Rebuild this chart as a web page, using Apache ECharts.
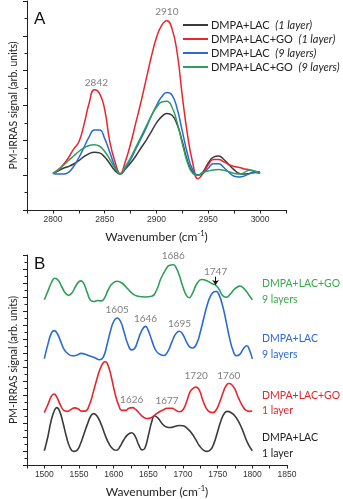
<!DOCTYPE html>
<html>
<head>
<meta charset="utf-8">
<script src="https://cdn.jsdelivr.net/npm/echarts@6/dist/echarts.min.js"></script>
<style>
  html, body { margin: 0; padding: 0; background: #fff; }
  #chart { width: 343px; height: 499px; }
</style>
</head>
<body>
<div id="chart"></div>
<script>
// Panel A: CH stretching region, sampled every 5 cm-1 from 2800 to 3000
const wnA = [];
for (let w = 2800; w <= 3000; w += 5) wnA.push(w);

const aBlack = [0.05,0.12,0.2,0.25,0.32,0.42,0.53,0.62,0.66,0.64,0.52,0.33,0.13,0.03,0.18,0.35,0.55,0.78,1.0,1.25,1.5,1.68,1.77,1.72,1.45,0.95,0.4,0.08,0.0,0.1,0.35,0.52,0.55,0.45,0.3,0.15,0.05,0.03,0.05,0.08,0.07];
const aRed   = [0.05,0.15,0.3,0.5,0.75,0.95,1.45,2.07,2.45,2.35,1.88,0.95,0.38,0.05,0.4,0.9,1.5,2.1,2.75,3.4,3.95,4.3,4.43,4.2,3.5,2.25,1.15,0.35,-0.1,0.05,0.3,0.45,0.45,0.38,0.3,0.25,0.22,0.18,0.15,0.1,0.05];
const aBlue  = [0.05,0.03,0.03,0.08,0.25,0.5,0.8,1.1,1.3,1.3,1.05,0.65,0.25,0.03,0.2,0.45,0.75,1.05,1.35,1.7,2.0,2.25,2.37,2.3,1.9,1.25,0.6,0.15,0.0,0.05,0.2,0.33,0.33,0.22,0.08,-0.03,-0.05,-0.02,0.05,0.08,0.1];
const aGreen = [0.05,0.15,0.28,0.42,0.55,0.68,0.78,0.85,0.87,0.83,0.68,0.45,0.2,0.03,0.25,0.5,0.8,1.1,1.4,1.7,1.95,2.1,2.12,1.95,1.5,0.9,0.35,0.05,0.0,0.08,0.12,0.15,0.16,0.14,0.1,0.05,0.03,0.08,0.15,0.12,0.05];

const namesA = ['DMPA+LAC (1 layer)', 'DMPA+LAC+GO (1 layer)', 'DMPA+LAC (9 layers)', 'DMPA+LAC+GO (9 layers)'];
const peaksA = [2842, 2910];

// Panel B: amide / carbonyl region, offset traces [wavenumber, signal]
const bBlack = [[1500,1.02],[1505,2.0],[1510,3.2],[1515,3.95],[1518,4.1],[1522,3.85],[1527,3.0],[1532,2.0],[1537,1.25],[1542,0.97],[1547,1.05],[1552,1.5],[1557,2.2],[1562,2.9],[1567,3.5],[1571,3.67],[1576,3.5],[1582,2.9],[1588,2.1],[1594,1.45],[1600,1.1],[1604,1.05],[1609,1.3],[1614,1.75],[1620,2.15],[1626,2.3],[1631,2.05],[1636,1.45],[1641,1.08],[1645,1.2],[1650,2.1],[1655,3.1],[1659,3.52],[1664,3.35],[1670,2.95],[1676,2.72],[1682,2.68],[1688,2.75],[1694,2.82],[1700,2.8],[1706,2.62],[1712,2.3],[1718,1.85],[1724,1.35],[1730,1.05],[1735,0.97],[1740,1.1],[1745,1.6],[1750,2.4],[1755,3.2],[1760,3.72],[1764,3.83],[1769,3.75],[1774,3.55],[1779,3.2],[1785,2.6],[1790,1.95],[1795,1.4],[1800,1.02]];
const bRed = [[1500,3.74],[1505,4.3],[1510,4.9],[1514,5.07],[1518,4.85],[1523,4.3],[1528,3.9],[1533,3.83],[1538,3.95],[1544,4.08],[1549,4.0],[1554,3.85],[1559,3.85],[1565,4.3],[1570,5.1],[1575,6.0],[1580,6.8],[1585,7.3],[1588,7.37],[1592,7.1],[1597,6.2],[1602,5.1],[1607,4.3],[1612,3.9],[1617,3.9],[1622,4.05],[1627,4.1],[1632,3.95],[1637,3.7],[1642,3.45],[1648,3.32],[1654,3.38],[1660,3.6],[1666,3.8],[1672,3.95],[1677,4.05],[1684,4.05],[1690,3.9],[1695,3.8],[1700,3.95],[1705,4.5],[1710,5.2],[1714,5.45],[1719,5.56],[1724,5.3],[1728,4.7],[1733,4.1],[1738,3.8],[1743,3.74],[1748,3.95],[1753,4.5],[1758,5.2],[1762,5.65],[1766,5.82],[1770,5.75],[1775,5.4],[1780,4.8],[1786,4.2],[1791,3.9],[1796,3.83],[1800,3.86]];
const bBlue = [[1500,7.6],[1505,8.6],[1510,9.4],[1514,9.6],[1518,9.45],[1523,8.9],[1528,8.3],[1533,8.0],[1540,7.8],[1547,7.85],[1553,7.97],[1558,7.93],[1565,7.8],[1572,7.68],[1580,7.52],[1585,7.7],[1590,8.5],[1595,9.5],[1600,10.25],[1605,10.5],[1610,10.25],[1615,9.5],[1620,8.7],[1626,8.22],[1630,8.3],[1635,8.9],[1640,9.55],[1646,9.9],[1650,9.6],[1655,8.9],[1660,8.25],[1665,7.95],[1672,7.82],[1678,8.1],[1684,8.8],[1690,9.4],[1695,9.55],[1700,9.3],[1705,8.8],[1710,8.42],[1714,8.36],[1720,8.7],[1725,9.5],[1730,10.5],[1735,11.45],[1740,12.1],[1745,12.38],[1748,12.4],[1752,12.15],[1757,11.4],[1762,10.3],[1767,9.1],[1772,8.2],[1777,7.8],[1782,7.9],[1787,8.3],[1792,8.52],[1796,8.2],[1800,7.58]];
const bGreen = [[1500,11.8],[1505,12.4],[1510,13.0],[1515,13.34],[1520,13.2],[1525,12.75],[1530,12.3],[1535,12.12],[1540,12.3],[1545,12.75],[1550,13.1],[1553,13.15],[1557,12.95],[1562,12.3],[1567,11.75],[1572,11.68],[1577,11.75],[1582,11.72],[1587,11.95],[1592,12.5],[1598,12.95],[1605,13.12],[1612,13.0],[1620,12.6],[1628,12.2],[1635,12.05],[1645,12.0],[1655,12.05],[1662,12.5],[1668,13.3],[1675,13.95],[1680,14.25],[1686,14.3],[1690,14.1],[1695,13.5],[1700,12.7],[1705,12.1],[1709,11.95],[1714,12.3],[1720,12.95],[1727,13.25],[1735,13.15],[1742,12.95],[1747,12.85],[1752,12.55],[1757,12.1],[1762,11.98],[1768,12.2],[1775,12.6],[1782,12.78],[1788,12.6],[1795,12.15],[1800,11.8]];

const peaksBGreen = [1686];
const peaksBBlue = [1605, 1646, 1695];
const peaksBRed = [[1626, 1626], [1677, 1677], [1719, 1720], [1766, 1760]];
const arrowB = 1747;

const COLORS = { black: '#3a3a3a', red: '#e8252d', blue: '#2a6ad6', green: '#2f9e5a' };
const LABEL_GREY = '#808080';
const FONT = 'Lato, "Open Sans", sans-serif';

function valueAt(pairs, x) {
  for (let i = 1; i < pairs.length; i++) {
    if (pairs[i][0] >= x) {
      const [x0, y0] = pairs[i - 1], [x1, y1] = pairs[i];
      return y0 + (y1 - y0) * (x - x0) / (x1 - x0);
    }
  }
  return pairs[pairs.length - 1][1];
}

function peakMark(pairs, wn, text, dist) {
  return {
    coord: [wn, valueAt(pairs, wn)],
    symbol: 'circle', symbolSize: 0,
    label: { show: true, position: 'top', distance: dist, formatter: String(text),
             color: LABEL_GREY, fontSize: 10, fontFamily: FONT }
  };
}

const pairsA = arr => wnA.map((w, i) => [w, arr[i]]);
const redA = pairsA(aRed);

function lineSeries(name, data, color, grid, extra) {
  return Object.assign({
    name, type: 'line', data, xAxisIndex: grid, yAxisIndex: grid,
    smooth: 0.5, showSymbol: false, symbol: 'none',
    lineStyle: { color, width: 1.5 }, itemStyle: { color },
    emphasis: { disabled: true }, animation: false, z: 3
  }, extra || {});
}

const chart = echarts.init(document.getElementById('chart'));

const axisLineStyle = { show: true, onZero: false, lineStyle: { color: '#222', width: 1 } };
const axisLabelStyle = { color: '#333', fontSize: 8.5, fontFamily: '"Liberation Sans", Arial, sans-serif', margin: 5 };
const nameRich = {
  fontSize: 12, fontFamily: FONT, color: '#222',
  rich: { s: { fontSize: 7.5, fontFamily: FONT, color: '#222', verticalAlign: 'top', lineHeight: 14 } }
};

function xAxisOf(grid, min, max, lo, hi) {
  return {
    gridIndex: grid, type: 'value', min, max, interval: 25,
    name: 'Wavenumber (cm{s|-1})', nameLocation: 'middle', nameGap: 20,
    nameTextStyle: nameRich,
    axisLine: axisLineStyle,
    axisTick: { show: true, length: 3.5, lineStyle: { color: '#222' } },
    axisLabel: Object.assign({}, axisLabelStyle, {
      formatter: v => (v % 50 === 0 && v >= lo && v <= hi) ? String(v) : ''
    }),
    splitLine: { show: false }
  };
}

function yAxisOf(grid, min, max) {
  return {
    gridIndex: grid, type: 'value', min, max, interval: 1,
    name: 'PM-IRRAS signal (arb. units)', nameLocation: 'middle', nameGap: 8,
    nameTextStyle: { fontSize: 10.5, fontFamily: FONT, color: '#222' },
    axisLine: axisLineStyle,
    axisTick: { show: true, length: 4, lineStyle: { color: '#222' } },
    minorTick: { show: true, splitNumber: 2, length: 2.5, lineStyle: { color: '#222' } },
    axisLabel: { show: false },
    splitLine: { show: false }, minorSplitLine: { show: false }
  };
}

const legendFormatter = name => {
  const i = name.indexOf(' (');
  return '{n|' + name.slice(0, i) + '}  {i|' + name.slice(i + 1) + '}';
};

const sideLabels = [
  { text: 'DMPA+LAC+GO\n9 layers', top: 276, color: '#3aa84c' },
  { text: 'DMPA+LAC\n9 layers', top: 331, color: '#2a6ad6' },
  { text: 'DMPA+LAC+GO\n1 layer', top: 387.5, color: '#e2262e' },
  { text: 'DMPA+LAC\n1 layer', top: 430, color: '#222' }
];

const option = {
  backgroundColor: '#fff',
  animation: false,
  grid: [
    { left: 26, top: 1, width: 260, height: 209 },
    { left: 26, top: 255, width: 261, height: 211 }
  ],
  xAxis: [xAxisOf(0, 2775, 3025, 2800, 3000), xAxisOf(1, 1475, 1850, 1500, 1850)],
  yAxis: [yAxisOf(0, -1, 5), yAxisOf(1, 0, 15)],
  legend: {
    data: namesA, orient: 'vertical', left: 183, top: 18,
    itemWidth: 25, itemHeight: 2, itemGap: 0, icon: 'rect',
    selectedMode: false, padding: 0,
    formatter: legendFormatter,
    textStyle: {
      color: '#222', fontSize: 11, fontFamily: FONT, lineHeight: 14, padding: [0, 0, 0, -2],
      rich: {
        n: { fontSize: 11, fontFamily: FONT, color: '#222' },
        i: { fontSize: 11, fontFamily: FONT, color: '#222', fontStyle: 'italic' }
      }
    }
  },
  graphic: [
    { type: 'text', left: 34, top: 11, style: { text: 'A', fontSize: 17, fontFamily: '"Liberation Sans", Arial, sans-serif', fill: '#111' } },
    { type: 'text', left: 34, top: 256, style: { text: 'B', fontSize: 17, fontFamily: '"Liberation Sans", Arial, sans-serif', fill: '#111' } }
  ].concat(sideLabels.map(s => ({
    type: 'text', left: 262, top: s.top,
    style: { text: s.text, fontSize: 10.5, lineHeight: 15.5, fontFamily: FONT, fill: s.color }
  }))),
  series: [
    lineSeries(namesA[0], pairsA(aBlack), COLORS.black, 0),
    lineSeries(namesA[1], redA, COLORS.red, 0, {
      markPoint: { silent: true, data: [peakMark(redA, peaksA[0], peaksA[0], 3), peakMark(redA, peaksA[1], peaksA[1], 4)] }
    }),
    lineSeries(namesA[2], pairsA(aBlue), COLORS.blue, 0),
    lineSeries(namesA[3], pairsA(aGreen), COLORS.green, 0),

    lineSeries('DMPA+LAC 1 layer', bBlack, COLORS.black, 1, { lineStyle: { color: COLORS.black, width: 1.6 } }),
    lineSeries('DMPA+LAC+GO 1 layer', bRed, COLORS.red, 1, {
      lineStyle: { color: COLORS.red, width: 1.6 },
      markPoint: { silent: true, data: peaksBRed.map(([wn, t], i) => peakMark(bRed, wn, t, i === 2 ? 6 : 3)) }
    }),
    lineSeries('DMPA+LAC 9 layers', bBlue, COLORS.blue, 1, {
      lineStyle: { color: COLORS.blue, width: 1.6 },
      markPoint: { silent: true, data: peaksBBlue.map(wn => peakMark(bBlue, wn, wn, 3)) }
    }),
    lineSeries('DMPA+LAC+GO 9 layers', bGreen, COLORS.green, 1, {
      lineStyle: { color: COLORS.green, width: 1.6 },
      markPoint: {
        silent: true,
        data: peaksBGreen.map(wn => peakMark(bGreen, wn, wn, 4)).concat([
          peakMark([[arrowB, valueAt(bGreen, arrowB) + 0.6]], arrowB, arrowB, 0)
        ])
      },
      markLine: {
        silent: true, symbol: ['none', 'arrow'], symbolSize: 5,
        lineStyle: { color: '#111', width: 1, type: 'solid' },
        label: { show: false },
        data: [[{ coord: [arrowB, valueAt(bGreen, arrowB) + 0.6] }, { coord: [arrowB, valueAt(bGreen, arrowB)] }]]
      }
    })
  ]
};

chart.setOption(option);
</script>
</body>
</html>
